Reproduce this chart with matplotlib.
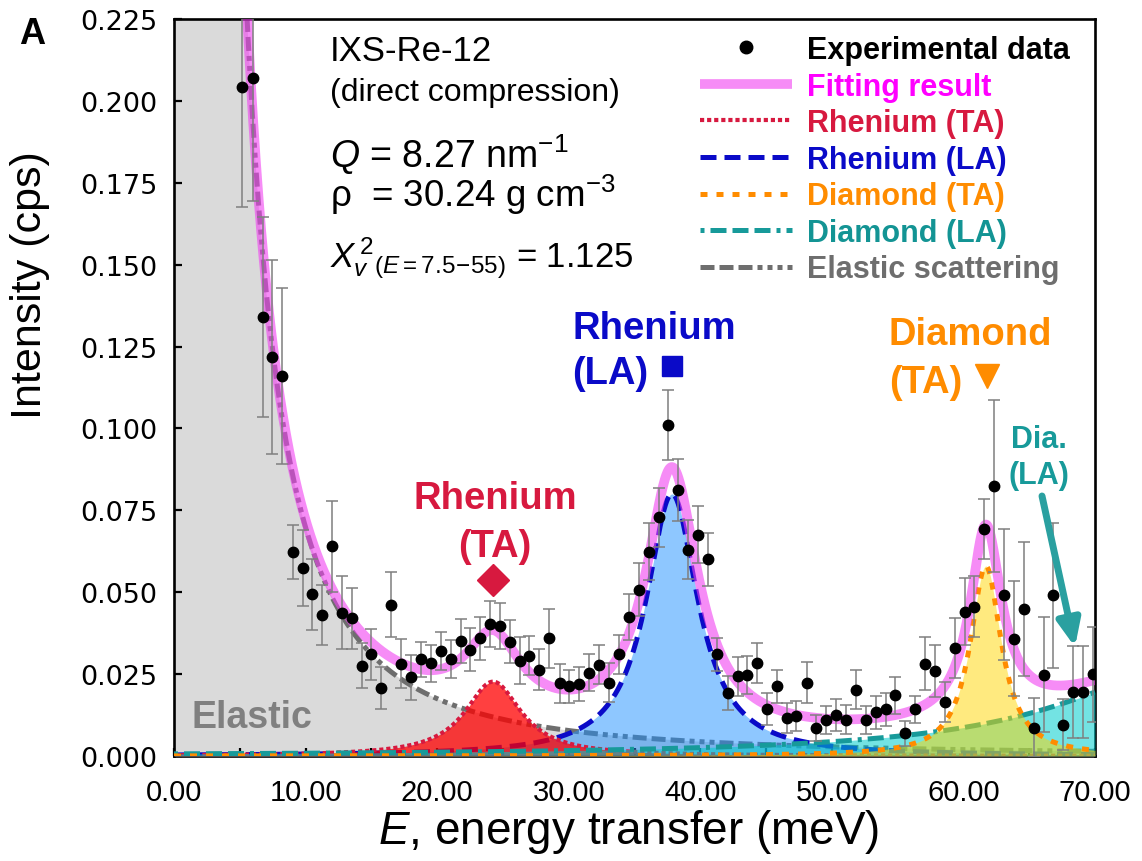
import numpy as np
import matplotlib
matplotlib.use("Agg")
import matplotlib.pyplot as plt
from matplotlib.lines import Line2D

plt.rcParams['font.family'] = ['Liberation Sans', 'DejaVu Sans']
plt.rcParams['mathtext.fontset'] = 'custom'
plt.rcParams['mathtext.rm'] = 'Liberation Sans'
plt.rcParams['mathtext.it'] = 'Liberation Sans:italic'
plt.rcParams['mathtext.bf'] = 'Liberation Sans:bold'

# ---------------- data ----------------
energy = [5.17, 6.02, 6.77, 7.45, 8.20, 9.03, 9.78, 10.52, 11.28, 12.04, 12.78, 13.54,
          14.27, 15.00, 15.74, 16.50, 17.24, 18.00, 18.78, 19.54, 20.30, 21.04, 21.80,
          22.53, 23.29, 24.03, 24.79, 25.55, 26.27, 27.01, 27.77, 28.53, 29.30, 30.03,
          30.80, 31.56, 32.32, 33.05, 33.80, 34.59, 35.33, 36.08, 36.85, 37.53, 38.27,
          39.03, 39.82, 40.58, 41.28, 42.08, 42.83, 43.57, 44.32, 45.10, 45.84, 46.59,
          47.30, 48.10, 48.82, 49.57, 50.34, 51.09, 51.84, 52.58, 53.33, 54.09, 54.83,
          55.58, 56.32, 57.08, 57.82, 58.60, 59.35, 60.09, 60.84, 61.57, 62.30, 63.08,
          63.82, 64.58, 65.34, 66.09, 66.84, 67.58, 68.33, 69.08, 69.84]
intensity = [0.2041, 0.2069, 0.1340, 0.1218, 0.1160, 0.0622, 0.0574, 0.0494, 0.0430, 0.0641,
             0.0438, 0.0420, 0.0276, 0.0310, 0.0207, 0.0462, 0.0282, 0.0240, 0.0295, 0.0283,
             0.0321, 0.0296, 0.0351, 0.0325, 0.0359, 0.0403, 0.0398, 0.0349, 0.0291, 0.0306,
             0.0264, 0.0359, 0.0222, 0.0213, 0.0220, 0.0254, 0.0279, 0.0224, 0.0310, 0.0424,
             0.0508, 0.0624, 0.0729, 0.1011, 0.0812, 0.0630, 0.0676, 0.0600, 0.0310, 0.0192,
             0.0243, 0.0248, 0.0284, 0.0143, 0.0213, 0.0115, 0.0121, 0.0224, 0.0086, 0.0110,
             0.0125, 0.0111, 0.0203, 0.0109, 0.0133, 0.0143, 0.0185, 0.0069, 0.0143, 0.0282,
             0.0259, 0.0165, 0.0330, 0.0441, 0.0456, 0.0693, 0.0825, 0.0493, 0.0358, 0.0448,
             0.0086, 0.0248, 0.0490, 0.0096, 0.0196, 0.0196, 0.0250]
error = [0.0366, 0.0374, 0.0305, 0.0297, 0.0269, 0.0083, 0.0116, 0.0108, 0.0092, 0.0139,
         0.0110, 0.0092, 0.0069, 0.0079, 0.0064, 0.0099, 0.0075, 0.0069, 0.0053, 0.0056,
         0.0059, 0.0059, 0.0066, 0.0066, 0.0065, 0.0071, 0.0070, 0.0066, 0.0071, 0.0059,
         0.0062, 0.0090, 0.0059, 0.0051, 0.0051, 0.0057, 0.0060, 0.0060, 0.0060, 0.0071,
         0.0081, 0.0087, 0.0090, 0.0107, 0.0095, 0.0089, 0.0086, 0.0081, 0.0050, 0.0052,
         0.0059, 0.0058, 0.0060, 0.0049, 0.0050, 0.0046, 0.0046, 0.0062, 0.0040, 0.0043,
         0.0050, 0.0045, 0.0060, 0.0043, 0.0050, 0.0050, 0.0056, 0.0037, 0.0041, 0.0082,
         0.0079, 0.0061, 0.0092, 0.0103, 0.0092, 0.0092, 0.0263, 0.0200, 0.0176, 0.0204,
         0.0090, 0.0176, 0.0220, 0.0077, 0.0140, 0.0140, 0.0145]

# fitted model parameters
elastic_amp = 7.0
elastic_width = 0.5
peak_names = ["Rhenium (TA)", "Rhenium (LA)", "Diamond (TA)", "Diamond (LA)"]
peak_centers = [24.25, 37.85, 61.7, 78.0]
peak_heights = [0.0227, 0.080, 0.058, 0.0282]
peak_hwhm = [2.6, 2.4, 1.45, 12.0]

x_ticks = [0, 10, 20, 30, 40, 50, 60, 70]
y_ticks = [0.000, 0.025, 0.050, 0.075, 0.100, 0.125, 0.150, 0.175, 0.200, 0.225]

# ---------------- model curves ----------------
E = np.linspace(0.0, 70.0, 2801)
elastic = elastic_amp / (E**2 + elastic_width**2)
peaks = [h * g**2 / ((E - c)**2 + g**2) for c, h, g in zip(peak_centers, peak_heights, peak_hwhm)]
total = elastic + sum(peaks)

# ---------------- figure ----------------
W, H = 1142, 862
fig = plt.figure(figsize=(W / 100, H / 100), dpi=100)
L, R, T, B = 174, 1095, 20, 757
ax = fig.add_axes([L / W, 1 - B / H, (R - L) / W, (B - T) / H])
ax.set_xlim(0, 70)
ax.set_ylim(0, 0.225)

c_red, c_blue, c_orange, c_teal, c_gray = '#d7193f', '#0a0ac8', '#ff8c00', '#179a9a', '#6e6e6e'
st = dict(
    elastic=dict(color=c_gray, lw=3.6, dashes=(2.8, 1, 2.8, 1, 2.8, 1, 1, 1, 1, 1, 1, 1)),
    reTA=dict(color=c_red, lw=3.0, dashes=(1, 0.7)),
    reLA=dict(color=c_blue, lw=3.6, dashes=(3.2, 1.6)),
    diTA=dict(color=c_orange, lw=3.6, dashes=(1.4, 1.8)),
    diLA=dict(color=c_teal, lw=3.6, dashes=(0.8, 1.2, 3.2, 1.2, 3.2, 1.2, 3.2, 1.2)),
    fit=dict(color='#f040f0', lw=7.0, alpha=0.6, solid_capstyle='butt'),
)

# elastic
ax.fill_between(E, 0, elastic, color='#dadada', lw=0, zorder=1)
ax.plot(E, elastic, zorder=2, **st['elastic'])
# Re LA
ax.fill_between(E, 0, peaks[1], color='#1e90ff', alpha=0.5, lw=0, zorder=3)
ax.plot(E, peaks[1], zorder=3.1, **st['reLA'])
# Re TA
ax.fill_between(E, 0, peaks[0], color='#ff0000', alpha=0.75, lw=0, zorder=3.2)
ax.plot(E, peaks[0], zorder=3.3, **st['reTA'])
# Diamond LA
ax.fill_between(E, 0, peaks[3], color='#00cccc', alpha=0.55, lw=0, zorder=3.4)
ax.plot(E, peaks[3], zorder=3.5, **st['diLA'])
# Diamond TA
ax.fill_between(E, 0, peaks[2], color='#ffd700', alpha=0.5, lw=0, zorder=3.6)
ax.plot(E, peaks[2], zorder=3.7, **st['diTA'])
# total fit
ax.plot(E, total, zorder=4, **st['fit'])

# data
ax.errorbar(energy, intensity, yerr=error, fmt='none', ecolor='#7f7f7f', elinewidth=1.1,
            capsize=4.5, capthick=1.1, zorder=6)
ax.plot(energy, intensity, 'o', color='black', ms=7.5, zorder=7)

# axes styling
for s in ax.spines.values():
    s.set_linewidth(1.9)
ax.set_xticks(x_ticks)
ax.set_xticks(np.arange(5, 70, 10), minor=True)
ax.set_yticks(y_ticks)
ax.xaxis.set_major_formatter(matplotlib.ticker.FormatStrFormatter('%.2f'))
ax.yaxis.set_major_formatter(matplotlib.ticker.FormatStrFormatter('%.3f'))
ax.tick_params(axis='both', which='both', direction='in', width=1.6, length=6, top=False, right=False)
ax.tick_params(axis='x', labelsize=21, pad=16)
ax.tick_params(axis='y', labelsize=19.5, pad=12)
for lab in ax.get_yticklabels():
    lab.set_family('DejaVu Sans')

fig.text(629 / W, 1 - 832 / H, r'$E$, energy transfer (meV)', fontsize=33, ha='center', va='center')
fig.text(30 / W, 1 - 285 / H, 'Intensity (cps)', fontsize=31, rotation=90, ha='center', va='center')
fig.text(32 / W, 1 - 35 / H, 'A', fontsize=26, fontweight='bold', ha='center', va='center')

# info text
def px2d(px, py):
    return (px - L) / (R - L) * 70, (B - py) / (B - T) * 0.225

ax.text(*px2d(330, 52), 'IXS-Re-12', fontsize=25, ha='left', va='center', zorder=10)
ax.text(*px2d(330, 93), '(direct compression)', fontsize=23, ha='left', va='center', zorder=10)
ax.text(*px2d(330, 155), r'$Q$ = 8.27 nm$^{-1}$', fontsize=27, ha='left', va='center', zorder=10)
ax.text(*px2d(330, 195), 'ρ  = 30.24 g cm$^{-3}$', fontsize=26.5, ha='left', va='center', zorder=10)
ax.text(*px2d(330, 258), r'$X_{v}^{\,2}{}_{(E=7.5\!-\!55)}$ = 1.125', fontsize=25,
        ha='left', va='center', zorder=10)

# peak labels
lab_fs = 27.5
ax.text(*px2d(495, 499), 'Rhenium', color=c_red, fontsize=lab_fs, fontweight='bold',
        ha='center', va='center', zorder=10)
ax.text(*px2d(495, 547), '(TA)', color=c_red, fontsize=lab_fs, fontweight='bold',
        ha='center', va='center', zorder=10)
ax.plot(*px2d(493, 581), marker='D', color=c_red, ms=16, zorder=10)
ax.text(*px2d(654, 329), 'Rhenium', color=c_blue, fontsize=lab_fs, fontweight='bold',
        ha='center', va='center', zorder=10)
ax.text(*px2d(610, 374), '(LA)', color=c_blue, fontsize=lab_fs, fontweight='bold',
        ha='center', va='center', zorder=10)
ax.plot(*px2d(672, 367), marker='s', color=c_blue, ms=14, zorder=10)
ax.text(*px2d(970, 335), 'Diamond', color=c_orange, fontsize=lab_fs, fontweight='bold',
        ha='center', va='center', zorder=10)
ax.text(*px2d(926, 383), '(TA)', color=c_orange, fontsize=lab_fs, fontweight='bold',
        ha='center', va='center', zorder=10)
ax.plot(*px2d(987, 377), marker='v', color=c_orange, ms=17, zorder=10)
ax.text(*px2d(1039, 440), 'Dia.', color=c_teal, fontsize=22, fontweight='bold',
        ha='center', va='center', zorder=10)
ax.text(*px2d(1039, 476), '(LA)', color=c_teal, fontsize=22, fontweight='bold',
        ha='center', va='center', zorder=10)
ax.annotate('', xy=px2d(1075, 648), xytext=px2d(1042, 497),
            arrowprops=dict(arrowstyle='-|>,head_length=1.6,head_width=0.7', lw=5,
                            color='#2aa0a0', shrinkA=0, shrinkB=0), zorder=10)
ax.text(*px2d(252, 718), 'Elastic', color='#808080', fontsize=27, fontweight='bold',
        ha='center', va='center', zorder=10)

# legend
handles = [
    Line2D([], [], ls='none', marker='o', color='black', ms=9),
    Line2D([], [], **st['fit']),
    Line2D([], [], **st['reTA']),
    Line2D([], [], **st['reLA']),
    Line2D([], [], **st['diTA']),
    Line2D([], [], **st['diLA']),
    Line2D([], [], **st['elastic']),
]
labels = ['Experimental data', 'Fitting result'] + peak_names + ['Elastic scattering']
leg = ax.legend(handles, labels, loc='upper left', bbox_to_anchor=((700 - L) / (R - L), (B - 36) / (B - T)),
                frameon=False, borderpad=0, borderaxespad=0, handlelength=3.0, handletextpad=0.5,
                labelspacing=0.215, prop=dict(weight='bold', size=22),
                labelcolor=['black', '#ff00ff', c_red, c_blue, c_orange, '#139494', c_gray])
leg.set_zorder(10)

fig.savefig('out.png', dpi=100)
